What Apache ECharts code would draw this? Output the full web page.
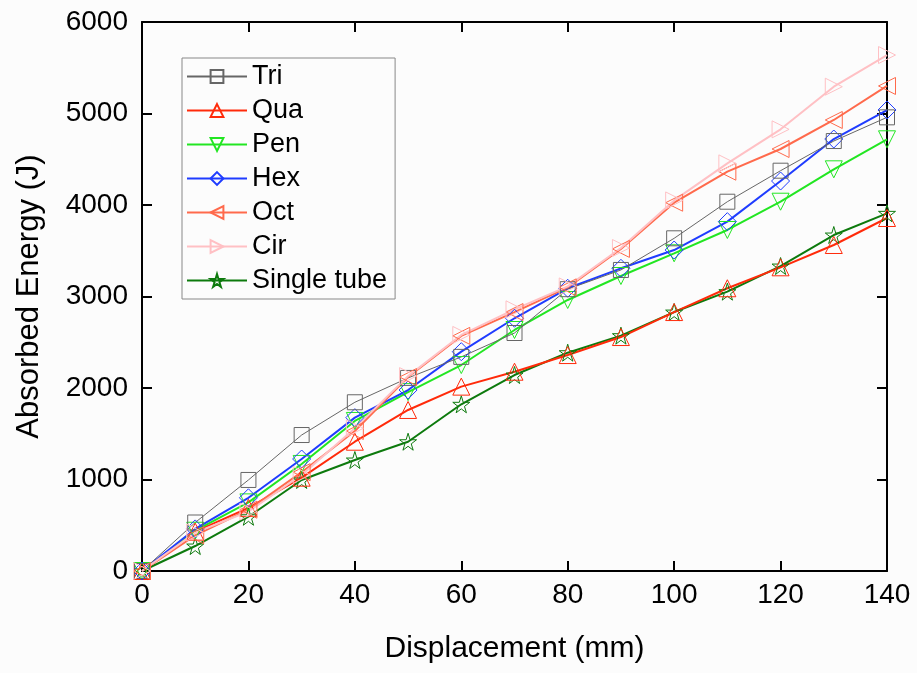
<!DOCTYPE html>
<html>
<head>
<meta charset="utf-8">
<script src="https://cdn.jsdelivr.net/npm/echarts@6/dist/echarts.min.js"></script>
<style>
  html, body { margin: 0; padding: 0; background: #fcfcfc; }
  #chart { width: 917px; height: 673px; }
</style>
</head>
<body>
<div id="chart"></div>
<script>
// displacement (mm)
const displacement = [0, 10, 20, 30, 40, 50, 60, 70, 80, 90, 100, 110, 120, 130, 140];

// absorbed energy (J)
const tri = [0, 530, 995, 1486, 1844, 2110, 2340, 2601, 3080, 3290, 3636, 4036, 4375, 4699, 4958];
const qua = [0, 430, 690, 1020, 1413, 1760, 2015, 2178, 2360, 2557, 2830, 3090, 3319, 3563, 3858];
const pen = [0, 440, 750, 1170, 1640, 1955, 2251, 2634, 2962, 3224, 3472, 3727, 4036, 4390, 4718];
const hex = [0, 460, 800, 1224, 1676, 1978, 2397, 2762, 3090, 3308, 3508, 3818, 4262, 4721, 5038];
const oct = [0, 390, 670, 1080, 1530, 2120, 2570, 2830, 3100, 3520, 4025, 4364, 4612, 4929, 5301];
const cir = [0, 420, 650, 1050, 1560, 2130, 2580, 2860, 3110, 3530, 4050, 4455, 4827, 5293, 5639];
const single = [0, 273, 593, 995, 1213, 1413, 1822, 2142, 2386, 2572, 2830, 3053, 3333, 3672, 3909];

const starPath = 'path://M50,0 L61,35 L98,35 L68,57 L79,91 L50,70 L21,91 L32,57 L2,35 L39,35 Z';

function mkSeries(name, data, color, symbol, rotate, width, size) {
  return {
    name: name,
    type: 'line',
    data: displacement.map((x, i) => [x, data[i]]),
    symbol: symbol,
    symbolRotate: rotate,
    symbolSize: size,
    lineStyle: { color: color, width: width },
    itemStyle: { color: 'rgba(0,0,0,0)', borderColor: color, borderWidth: 1 },
    emphasis: { disabled: true },
    animation: false
  };
}

const chart = echarts.init(document.getElementById('chart'));

const axisCommon = {
  axisLine: { show: true, onZero: false, lineStyle: { color: '#000', width: 2 } },
  axisTick: { show: true, inside: true, length: 10, lineStyle: { color: '#000', width: 2 } },
  splitLine: { show: false }
};

chart.setOption({
  backgroundColor: '#fcfcfc',
  textStyle: { fontFamily: 'Liberation Sans, Arial, sans-serif' },
  grid: { left: 142, right: 30, top: 22, bottom: 102 },
  legend: {
    orient: 'vertical',
    left: 182,
    top: 58,
    padding: [5, 8, 5, 4],
    itemWidth: 60,
    itemHeight: 16,
    itemGap: 7,
    borderColor: '#888',
    borderWidth: 1,
    backgroundColor: '#fcfcfc',
    textStyle: { fontSize: 27, lineHeight: 27, color: '#000' },
    data: ['Tri', 'Qua', 'Pen', 'Hex', 'Oct', 'Cir', 'Single tube']
  },
  xAxis: [
    Object.assign({
      type: 'value', min: 0, max: 140, interval: 20, position: 'bottom',
      name: 'Displacement (mm)', nameLocation: 'middle', nameGap: 63,
      nameTextStyle: { fontSize: 30, color: '#000' },
      axisLabel: { fontSize: 28, color: '#000', margin: 10 }
    }, axisCommon),
    Object.assign({
      type: 'value', min: 0, max: 140, interval: 20, position: 'top',
      axisLabel: { show: false }
    }, axisCommon)
  ],
  yAxis: [
    Object.assign({
      type: 'value', min: 0, max: 6000, interval: 1000, position: 'left',
      name: 'Absorbed Energy (J)', nameLocation: 'middle', nameGap: 97,
      nameTextStyle: { fontSize: 31, color: '#000' },
      axisLabel: { fontSize: 28, color: '#000', margin: 14, formatter: v => String(v) }
    }, axisCommon),
    Object.assign({
      type: 'value', min: 0, max: 6000, interval: 1000, position: 'right',
      axisLabel: { show: false }
    }, axisCommon)
  ],
  series: [
    mkSeries('Single tube', single, '#0d7a0d', starPath, 0, 2, 17),
    mkSeries('Qua', qua, '#ff2a0a', 'triangle', 0, 2, 17),
    mkSeries('Pen', pen, '#22e622', 'triangle', 180, 2, 17),
    mkSeries('Hex', hex, '#1f3cff', 'diamond', 0, 2, 18),
    mkSeries('Tri', tri, '#666666', 'rect', 0, 1, 15),
    mkSeries('Oct', oct, '#ff6a4c', 'triangle', 90, 2, 17),
    mkSeries('Cir', cir, '#ffc0c4', 'triangle', -90, 2, 17)
  ]
});
</script>
</body>
</html>
